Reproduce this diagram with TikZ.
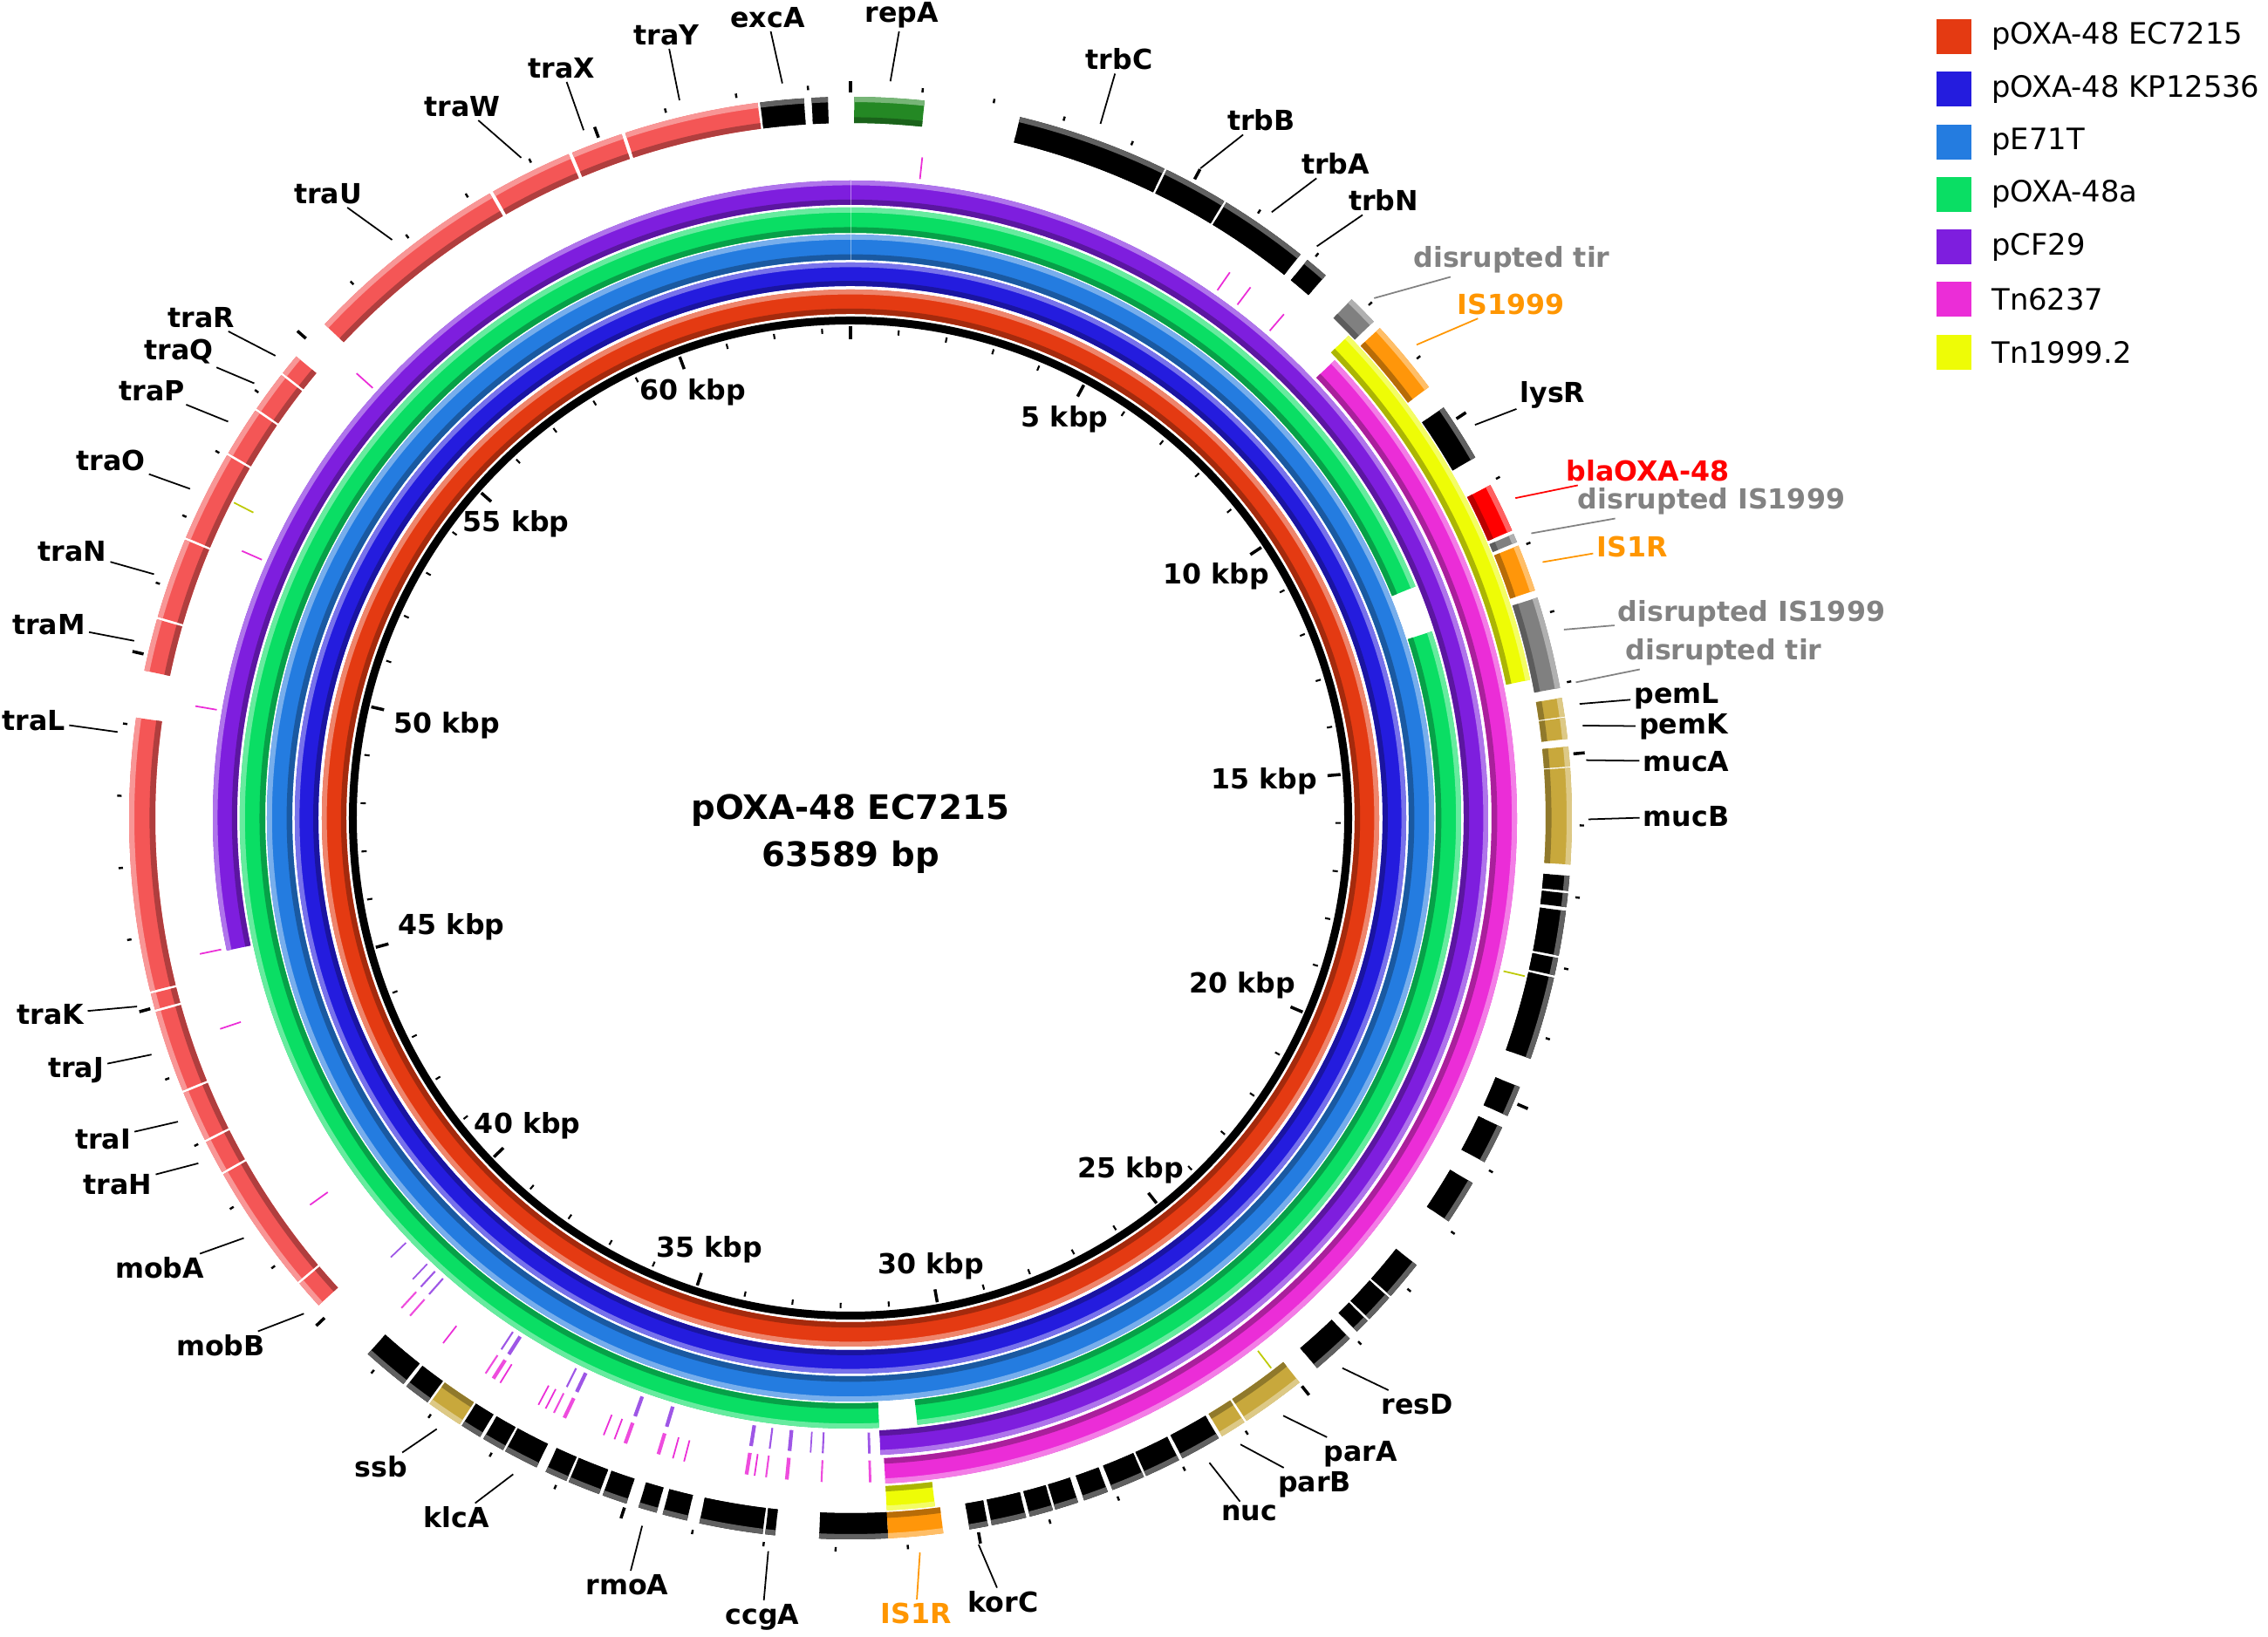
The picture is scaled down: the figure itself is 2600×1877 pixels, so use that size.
\documentclass[tikz,border=0pt]{standalone}
\usepackage{fontspec}
\setmainfont{DejaVu Sans}
\usepackage{tikz}
\usetikzlibrary{positioning}

\definecolor{ecred}{RGB}{228,58,18}
\definecolor{kpblue}{RGB}{36,28,222}
\definecolor{etblue}{RGB}{36,124,224}
\definecolor{oxgreen}{RGB}{10,222,100}
\definecolor{cfpurple}{RGB}{126,30,222}
\definecolor{tnpink}{RGB}{235,45,215}
\definecolor{tnyellow}{RGB}{238,252,6}
\definecolor{trasalmon}{RGB}{244,86,86}
\definecolor{repgreen}{RGB}{36,136,36}
\definecolor{isorange}{RGB}{255,150,10}
\definecolor{disgray}{RGB}{128,128,128}
\definecolor{blared}{RGB}{255,0,0}
\definecolor{pemgold}{RGB}{200,168,60}
\definecolor{labgray}{RGB}{130,130,130}
\definecolor{laborange}{RGB}{255,150,0}
\definecolor{labred}{RGB}{255,0,0}

\newcommand{\band}[5]{%
  \path[fill=#5] ({90-(#1)}:#3) arc[start angle={90-(#1)}, end angle={90-(#2)}, radius=#3]
    -- ({90-(#2)}:#4) arc[start angle={90-(#2)}, end angle={90-(#1)}, radius=#4] -- cycle;}
\newcommand{\bevel}[5]{%
  \pgfmathsetmacro\bandlo{#3+0.22*(#4-#3)}%
  \pgfmathsetmacro\bandhi{#4-0.2*(#4-#3)}%
  \band{#1}{#2}{#3}{#4}{#5}%
  \band{#1}{#2}{#3}{\bandlo}{#5!72!black}%
  \band{#1}{#2}{\bandhi}{#4}{#5!62!white}}

\begin{document}
\begin{tikzpicture}[x=0.01cm, y=0.01cm,
  genelabel/.style={font=\fontsize{9}{11}\selectfont\bfseries, inner sep=1pt},
  kbplabel/.style={font=\fontsize{9}{11}\selectfont\bfseries, inner sep=2pt},
  leader/.style={line width=0.5pt},
  keybox/.style={minimum size=0.4cm, inner sep=0pt},
  keytext/.style={font=\fontsize{9.6}{11}\selectfont, inner sep=0pt}]
  \useasboundingbox (-975,-939) rectangle (1625,938);

  \foreach \a/\b/\ri/\ro/\col in {0/360/578/606/ecred, 0/360/610/637/kpblue, 0/360/640/669/etblue,
      72.2/173.7/671/700/oxgreen, 177.3/427.7/671/700/oxgreen, 258.0/537.3/703/731/cfpurple,
      46.6/177.0/735/764/tnpink, 45.9/78.5/767/795/tnyellow, 173.0/177.0/767/795/tnyellow}
    {\bevel{\a}{\b}{\ri}{\ro}{\col}}
  \draw[white, opacity=0.45, line width=0.25pt] (90:640) -- (90:731);

  \draw[line width=2.56pt] (0,0) circle[radius=570.5];
  \foreach \k in {0,...,63}
    \draw[line width=0.6pt] ({90-\k*5.66136}:556) -- ({90-\k*5.66136}:562);
  \foreach \k in {0,5,...,60}
    \draw[line width=1pt] ({90-\k*5.66136}:549) -- ({90-\k*5.66136}:564);
  \foreach \k in {5,10,...,60} {
    \pgfmathsetmacro\ang{mod(450-\k*5.66136,360)}
    \node[kbplabel, anchor=\ang] (kbp\k) at (\ang:545) {\k\ kbp};
  }

  \foreach \c/\w in {178.3/0.8pt, 182.5/0.6pt, 185.5/1.2pt, 187.3/0.6pt, 189.0/1.2pt, 196.8/1.2pt,
      199.8/1.2pt, 205.5/1.2pt, 206.5/0.6pt, 212.5/1.2pt, 213.3/0.6pt, 221.5/0.6pt, 222.5/0.6pt} {
    \draw[cfpurple!75!white, line width=\w] ({90-\c}:705) -- ({90-\c}:729);
    \draw[tnpink!85!white, line width=\w] ({90-\c}:737) -- ({90-\c}:762);
  }
  \foreach \c in {188.3, 194.5, 195.5, 200.8, 201.8, 207.3, 208.0, 211.8, 217.8, 234.4, 251.5,
      258.2, 279.7, 293.7, 312.0, 6.2, 34.8, 37.0, 40.7}
    \draw[tnpink, line width=0.5pt] ({90-\c}:737) -- ({90-\c}:762);
  \foreach \c in {183.6, 223.5, 226.3}
    \draw[cfpurple!75!white, line width=0.5pt] ({90-\c}:705) -- ({90-\c}:729);
  \foreach \c in {297.1, 103.2, 142.6}
    \draw[tnyellow!80!black, line width=0.5pt] ({90-\c}:769) -- ({90-\c}:794);

  \foreach \a/\b in {227.5/229.8, 230.0/240.4, 240.6/243.3, 243.5/247.6, 247.8/254.4, 254.6/255.9,
      256.1/278.0, 281.8/286.0, 286.2/292.7, 292.9/300.2, 300.4/304.4, 304.6/307.9, 308.1/309.8,
      313.2/330.0, 330.3/337.0, 337.3/341.5, 341.8/352.6}
    {\bevel{\a}{\b}{797}{827}{trasalmon}}
  \foreach \a/\b in {352.8/356.3, 356.9/358.2, 13.6/25.8, 26.0/31.2, 31.4/38.6, 39.3/41.2, 55.3/60.0,
      94.6/95.8, 96.0/97.1, 97.4/101.0, 101.2/102.6, 102.8/109.5, 111.9/114.4, 115.4/118.5,
      120.4/124.0, 128.3/131.5, 131.7/134.0, 134.2/135.4, 136.2/139.7, 149.3/152.6, 152.9/155.8,
      156.0/158.7, 159.1/161.1, 161.6/163.5, 163.7/165.6, 165.9/168.7, 169.0/170.5, 177.0/182.5,
      186.0/186.8, 187.0/192.1, 193.1/195.1, 195.6/197.1, 198.1/200.1, 200.4/203.0, 203.2/205.0,
      205.8/208.6, 208.8/210.6, 210.9/212.6, 215.9/218.0, 218.3/222.0}
    {\bevel{\a}{\b}{797}{827}{black}}
  \foreach \a/\b/\col in {0.3/5.9/repgreen, 44.0/46.5/disgray, 47.2/53.3/isorange, 62.5/66.5/blared,
      66.8/67.5/disgray, 67.8/71.6/isorange, 72.2/79.6/disgray, 80.4/81.9/pemgold, 82.0/83.7/pemgold,
      84.3/85.9/pemgold, 86.0/93.7/pemgold, 141.5/146.7/pemgold, 146.9/149.0/pemgold,
      172.6/177.0/isorange, 212.8/215.7/pemgold}
    {\bevel{\a}{\b}{797}{827}{\col}}

  \foreach \k in {0,...,63}
    \draw[line width=0.7pt] ({90-\k*5.66136}:836) -- ({90-\k*5.66136}:841);
  \foreach \k in {0,5,...,60}
    \draw[line width=1pt] ({90-\k*5.66136}:832) -- ({90-\k*5.66136}:845);

  \node[font=\fontsize{11}{15.5}\selectfont\bfseries, align=center] (title) at (0,-18) {pOXA-48 EC7215\\63589 bp};

  \foreach \n/\x/\y/\c/\col/\t in {
      traY/-211/898/346.6/black/traY, excA/-95/918/354.7/black/excA, repA/59/921/3.1/black/repA,
      trbC/308/870/19.8/black/trbC, trbB/471/800/28.3/black/trbB, trbA/556/750/34.8/black/trbA,
      trbN/611/708/39.2/black/trbN, tirA/758/640/45.2/labgray/disrupted tir,
      isA/757/589/50.1/laborange/IS1999, lysR/805/485/57.8/black/lysR,
      bla/914/398/64.3/labred/blaOXA-48, disA/987/363/67.3/labgray/disrupted IS1999,
      isB/896/311/69.7/laborange/IS1R, disB/1033/234/75.2/labgray/disrupted IS1999,
      tirB/1001/190/79.4/labgray/disrupted tir, pemL/947/140/81.1/black/pemL,
      pemK/955/105/82.8/black/pemK, mucA/958/65/85.5/black/mucA, mucB/958/2/90.1/black/mucB,
      resD/650/-672/138.2/black/resD, parA/585/-729/144.1/black/parA, parB/532/-764/148.1/black/parB,
      nuc/457/-797/150.9/black/nuc, korC/175/-899/170.0/black/korC, isC/75/-912/174.6/laborange/IS1R,
      ccgA/-101/-916/186.4/black/ccgA, rmoA/-256/-879/196.4/black/rmoA, klcA/-452/-802/207.2/black/klcA,
      ssb/-538/-744/214.1/black/ssb, mobB/-722/-605/227.8/black/mobB, mobA/-792/-516/235.3/black/mobA,
      traH/-840/-420/242.1/black/traH, traI/-857/-368/245.7/black/traI, traJ/-888/-289/251.3/black/traJ,
      traK/-917/-225/255.2/black/traK, traL/-936/112/276.7/black/traL, traM/-919/222/283.9/black/traM,
      traN/-892/306/289.3/black/traN, traO/-848/410/296.5/black/traO, traP/-801/490/302.5/black/traP,
      traQ/-770/535/306.1/black/traQ, traR/-744/574/308.8/black/traR, traU/-599/716/321.6/black/traU,
      traW/-445/816/333.5/black/traW, traX/-331/860/338.8/black/traX} {
    \node[genelabel, text=\col] (\n) at (\x,\y) {\t};
    \coordinate (\n-end) at ({90-\c}:846);
    \draw[leader, \col] (\n) -- (\n-end);
  }

  \foreach \i/\col/\t in {0/ecred/pOXA-48 EC7215, 1/kpblue/pOXA-48 KP12536, 2/etblue/pE71T,
      3/oxgreen/pOXA-48a, 4/cfpurple/pCF29, 5/tnpink/Tn6237, 6/tnyellow/Tn1999.2} {
    \node[keybox, fill=\col] (key\i) at (1265,{896-60.3*\i}) {};
    \node[keytext, right=0.22cm of key\i] (keytext\i) {\t};
  }
\end{tikzpicture}
\end{document}
